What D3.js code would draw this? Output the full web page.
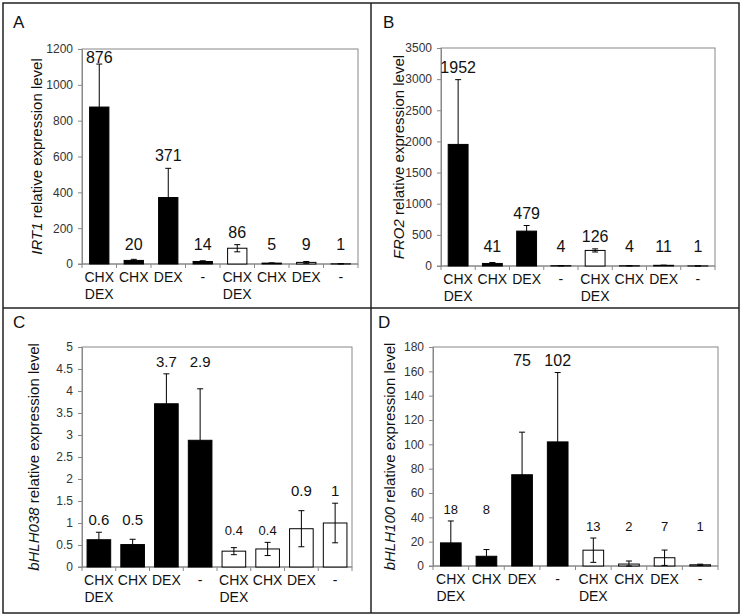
<!DOCTYPE html>
<html>
<head>
<meta charset="utf-8">
<script src="https://cdn.jsdelivr.net/npm/d3@7"></script>
<style>
  body { margin: 0; background: #fff; }
  svg text { font-family: "Liberation Sans", Arial, sans-serif; fill: #111; }
  text.tk { font-family: "Liberation Sans Narrow", "Liberation Sans", Arial, sans-serif; font-size: 12px; fill: #333; }
</style>
</head>
<body>
<svg id="chart" width="746" height="614"></svg>
<script>
// treatment under each bar (two text lines for the combined one)
var treatments = [["CHX","DEX"], ["CHX"], ["DEX"], ["-"], ["CHX","DEX"], ["CHX"], ["DEX"], ["-"]];
// first four bars = line 1 (filled), last four = line 2 (open)
var genotype = ["l1","l1","l1","l1","l2","l2","l2","l2"];

// A - IRT1
var irt1 = [876, 20, 371, 14, 88, 5, 9, 1];
var irt1Err = [240, 6, 163, 4, 20, 1, 5, 0.5];
var irt1Lbl = ["876","20","371","14","86","5","9","1"];
var irt1Ticks = [0, 200, 400, 600, 800, 1000, 1200];

// B - FRO2
var fro2 = [1952, 41, 560, 4, 250, 4, 11, 1];
var fro2Err = [1040, 15, 90, 2, 25, 1, 3, 0.5];
var fro2Lbl = ["1952","41","479","4","126","4","11","1"];
var fro2Ticks = [0, 500, 1000, 1500, 2000, 2500, 3000, 3500];

// C - bHLH038
var h038 = [0.62, 0.51, 3.71, 2.88, 0.36, 0.41, 0.87, 1.0];
var h038Err = [0.17, 0.12, 0.68, 1.17, 0.08, 0.15, 0.41, 0.45];
var h038Lbl = ["0.6","0.5","3.7","2.9","0.4","0.4","0.9","1"];
var h038Ticks = [0, 0.5, 1, 1.5, 2, 2.5, 3, 3.5, 4, 4.5, 5];

// D - bHLH100
var h100 = [19, 8, 75, 102, 13, 1.6, 6.8, 1];
var h100Err = [18, 5.5, 35, 57, 10, 2.5, 6.3, 0.5];
var h100Lbl = ["18","8","75","102","13","2","7","1"];
var h100Ticks = [0, 20, 40, 60, 80, 100, 120, 140, 160, 180];

var panels = [
  {letter: "A", gene: "IRT1", vals: irt1, err: irt1Err, lbl: irt1Lbl, ticks: irt1Ticks,
   lx: 13, ly: 28, left: 82, right: 358, top: 49, bottom: 264, pad: 0.44, titleOff: 40, numSize: 16,
   groups: [[0],[1],[2],[3],[4],[5],[6],[7]], small: []},
  {letter: "B", gene: "FRO2", vals: fro2, err: fro2Err, lbl: fro2Lbl, ticks: fro2Ticks,
   lx: 383, ly: 28, left: 441, right: 715, top: 48, bottom: 266, pad: 0.42, titleOff: 37, numSize: 16,
   groups: [[0],[1],[2],[3],[4],[5],[6],[7]], small: []},
  {letter: "C", gene: "bHLH038", vals: h038, err: h038Err, lbl: h038Lbl, ticks: h038Ticks,
   lx: 13, ly: 328, left: 82, right: 352, top: 347, bottom: 567, pad: 0.3, titleOff: 43, numSize: 15,
   groups: [[0,1],[2,3],[4,5],[6,7]], small: [4,5]},
  {letter: "D", gene: "bHLH100", vals: h100, err: h100Err, lbl: h100Lbl, ticks: h100Ticks,
   lx: 378, ly: 328, left: 433, right: 718, top: 347, bottom: 566, pad: 0.42, titleOff: 38, numSize: 16,
   groups: [[0,1],[2,3],[4,5,6,7]], small: [0,1,4,5,6,7]}
];

var svg = d3.select("#chart");

// panel frames
svg.append("rect").attr("x", 3).attr("y", 3).attr("width", 736).attr("height", 610)
  .attr("fill", "none").attr("stroke", "#222").attr("stroke-width", 1.5);
svg.append("line").attr("x1", 371).attr("x2", 371).attr("y1", 3).attr("y2", 613)
  .attr("stroke", "#222").attr("stroke-width", 1.5);
svg.append("line").attr("x1", 3).attr("x2", 739).attr("y1", 308).attr("y2", 308)
  .attr("stroke", "#222").attr("stroke-width", 1.5);

panels.forEach(function(p) {
  var g = svg.append("g");
  var ymax = p.ticks[p.ticks.length - 1];
  var x = d3.scaleBand().domain(d3.range(p.vals.length))
    .range([p.left, p.right]).paddingInner(p.pad).paddingOuter(p.pad / 2);
  var y = d3.scaleLinear().domain([0, ymax]).range([p.bottom, p.top]);

  // panel letter
  g.append("text").attr("x", p.lx).attr("y", p.ly)
    .style("font-size", "17px").text(p.letter);

  // plot frame
  g.append("rect").attr("x", p.left).attr("y", p.top)
    .attr("width", p.right - p.left).attr("height", p.bottom - p.top)
    .attr("fill", "none").attr("stroke", "#888").attr("stroke-width", 1);

  // y axis
  var yAxis = d3.axisLeft(y).tickValues(p.ticks).tickSize(4).tickPadding(5)
    .tickFormat(d3.format("~g"));
  var ya = g.append("g").attr("transform", "translate(" + p.left + ",0)").call(yAxis);
  ya.select(".domain").attr("stroke", "#888");
  ya.selectAll(".tick line").attr("stroke", "#888");
  ya.selectAll(".tick text").attr("class", "tk").attr("fill", null);
  ya.attr("font-family", null).attr("font-size", null);

  // x axis: separator ticks between bars
  var step = x.step();
  g.selectAll(".xsep").data(d3.range(p.vals.length + 1)).enter().append("line")
    .attr("x1", function(i) { return p.left + i * step; })
    .attr("x2", function(i) { return p.left + i * step; })
    .attr("y1", p.bottom).attr("y2", p.bottom + 4)
    .attr("stroke", "#888");
  g.append("line").attr("x1", p.left - 4).attr("x2", p.right)
    .attr("y1", p.bottom).attr("y2", p.bottom).attr("stroke", "#888");

  // bars
  g.selectAll(".bar").data(p.vals).enter().append("rect")
    .attr("x", function(d, i) { return x(i); })
    .attr("y", function(d) { return y(d); })
    .attr("width", x.bandwidth())
    .attr("height", function(d) { return p.bottom - y(d); })
    .attr("fill", function(d, i) { return genotype[i] == "l1" ? "#000" : "#fff"; })
    .attr("stroke", "#000").attr("stroke-width", 1);

  // error bars
  var eb = g.selectAll(".eb").data(p.vals).enter().append("g");
  eb.append("line")
    .attr("x1", function(d, i) { return x(i) + x.bandwidth() / 2; })
    .attr("x2", function(d, i) { return x(i) + x.bandwidth() / 2; })
    .attr("y1", function(d, i) { return y(Math.max(0, d - p.err[i])); })
    .attr("y2", function(d, i) { return y(d + p.err[i]); })
    .attr("stroke", "#000");
  [1, -1].forEach(function(s) {
    eb.append("line")
      .attr("x1", function(d, i) { return x(i) + x.bandwidth() / 2 - 3; })
      .attr("x2", function(d, i) { return x(i) + x.bandwidth() / 2 + 3; })
      .attr("y1", function(d, i) { return y(Math.max(0, d + s * p.err[i])); })
      .attr("y2", function(d, i) { return y(Math.max(0, d + s * p.err[i])); })
      .attr("stroke", "#000");
  });

  // value labels, levelled within groups
  var base = [];
  p.groups.forEach(function(grp) {
    var lev = d3.min(grp, function(i) { return y(p.vals[i] + p.err[i]); });
    grp.forEach(function(i) { base[i] = Math.min(lev - 7, p.bottom - 14); });
  });
  g.selectAll(".val").data(p.lbl).enter().append("text")
    .attr("x", function(d, i) { return x(i) + x.bandwidth() / 2; })
    .attr("y", function(d, i) { return Math.max(base[i], p.top + 14); })
    .attr("text-anchor", "middle")
    .style("font-size", function(d, i) { return (p.small.indexOf(i) >= 0 ? 13 : p.numSize) + "px"; })
    .text(function(d) { return d; });

  // treatment labels
  var tl = g.selectAll(".trt").data(treatments).enter().append("text")
    .attr("text-anchor", "middle")
    .style("font-size", "14px");
  tl.each(function(lines, i) {
    var t = d3.select(this);
    lines.forEach(function(s, k) {
      t.append("tspan").attr("x", x(i) + x.bandwidth() / 2)
        .attr("y", p.bottom + 18 + k * 17).text(s);
    });
  });

  // y title
  var ty = g.append("text")
    .attr("transform", "translate(" + (p.left - p.titleOff) + "," + ((p.top + p.bottom) / 2) + ") rotate(-90)")
    .attr("text-anchor", "middle").style("font-size", "15px");
  ty.append("tspan").style("font-style", "italic").text(p.gene);
  ty.append("tspan").text(" relative expression level");
});
</script>
</body>
</html>
